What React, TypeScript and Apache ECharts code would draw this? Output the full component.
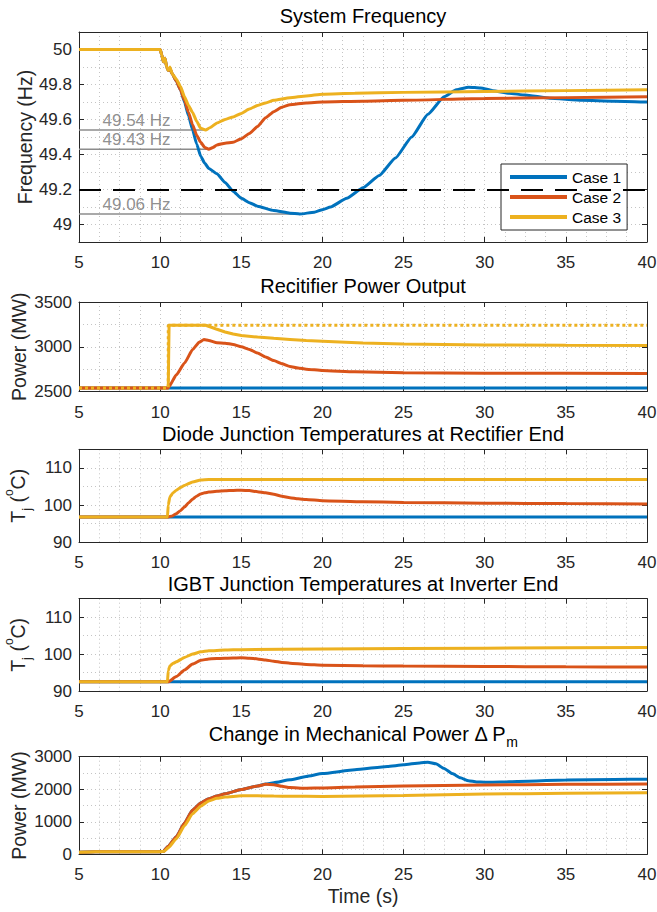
import React, { useEffect, useRef } from 'react';
import * as echarts from 'echarts';

// ---------------- data ----------------
const caseNames = ['Case 1', 'Case 2', 'Case 3'];

const panelTitles = [
  'System Frequency',
  'Recitifier Power Output',
  'Diode Junction Temperatures at Rectifier End',
  'IGBT Junction Temperatures at Inverter End',
  '{a|Change in Mechanical Power Δ P}{b|m}',
];

// System frequency (Hz)
const freqCase1: [number, number][] = [
  [5, 50], [10, 50], [10.1, 49.97], [10.2, 49.93], [10.3, 49.95], [10.4, 49.9], [10.5, 49.88],
  [10.6, 49.89], [10.75, 49.86], [11, 49.82], [11.25, 49.77], [11.5, 49.7], [11.75, 49.62],
  [12, 49.54], [12.25, 49.46], [12.5, 49.39], [12.75, 49.35], [13, 49.32], [13.5, 49.29],
  [14, 49.24], [14.5, 49.19], [15, 49.15], [15.5, 49.125], [16, 49.105], [17, 49.08],
  [18, 49.065], [18.6, 49.06], [19.5, 49.07], [20, 49.085], [20.5, 49.1], [21.5, 49.15],
  [22.5, 49.21], [23.5, 49.28], [24.5, 49.38], [25.5, 49.5], [26.5, 49.63], [27.5, 49.73],
  [28.25, 49.77], [29, 49.785], [29.75, 49.78], [30.5, 49.765], [31.5, 49.75], [32.5, 49.74],
  [34, 49.722], [36, 49.71], [38, 49.705], [40, 49.7],
];
const freqCase2: [number, number][] = [
  [5, 50], [10, 50], [10.1, 49.97], [10.2, 49.93], [10.3, 49.95], [10.4, 49.9], [10.5, 49.88],
  [10.6, 49.89], [10.75, 49.86], [11, 49.82], [11.25, 49.77], [11.5, 49.71], [11.75, 49.64],
  [12, 49.57], [12.25, 49.51], [12.5, 49.47], [12.75, 49.44], [13, 49.43], [13.25, 49.44],
  [13.5, 49.455], [14, 49.465], [14.5, 49.47], [15, 49.49], [15.5, 49.52], [16, 49.56],
  [16.5, 49.61], [17, 49.645], [17.5, 49.67], [18, 49.685], [19, 49.695], [20, 49.7],
  [22.5, 49.705], [25, 49.71], [30, 49.72], [35, 49.725], [40, 49.73],
];
const freqCase3: [number, number][] = [
  [5, 50], [10, 50], [10.1, 49.97], [10.2, 49.93], [10.3, 49.95], [10.4, 49.9], [10.5, 49.88],
  [10.6, 49.9], [10.75, 49.86], [11, 49.83], [11.25, 49.79], [11.5, 49.73], [11.75, 49.68],
  [12, 49.64], [12.25, 49.59], [12.5, 49.55], [12.8, 49.54], [13.1, 49.555], [13.5, 49.58],
  [14, 49.6], [14.5, 49.615], [15, 49.635], [15.5, 49.66], [16, 49.68], [16.5, 49.695],
  [17, 49.71], [18, 49.725], [19, 49.735], [20, 49.745], [22, 49.75], [25, 49.755],
  [30, 49.76], [35, 49.765], [40, 49.77],
];
const freqLimit = 49.2;
const freqNadir = [49.06, 49.43, 49.54];
const freqNadirTime = [18.6, 13.0, 12.8];

// Rectifier power output (MW)
const powCase1: [number, number][] = [[5, 2540], [40, 2540]];
const powCase2: [number, number][] = [
  [5, 2540], [10.5, 2540], [11, 2686], [11.5, 2818], [12, 2968], [12.4, 3050], [12.7, 3080],
  [13, 3070], [13.5, 3045], [14, 3040], [14.5, 3025], [15, 3000], [15.5, 2970], [16, 2930],
  [16.5, 2885], [17, 2845], [17.5, 2810], [18, 2780], [18.5, 2762], [19, 2750], [20, 2735],
  [22, 2720], [25, 2710], [30, 2705], [40, 2700],
];
const powCase3: [number, number][] = [
  [5, 2540], [10.5, 2540], [10.55, 3240], [12.8, 3240], [13.2, 3215], [13.5, 3195], [14, 3165],
  [14.5, 3143], [15, 3126], [16, 3108], [17, 3094], [18, 3082], [19, 3070], [20, 3062],
  [22.5, 3042], [25, 3030], [30, 3020], [35, 3016], [40, 3013],
];
const powLimit3: [number, number][] = [[5, 2540], [10.5, 2540], [10.5, 3240], [40, 3240]];

// Diode junction temperature (°C)
const diodeCase1: [number, number][] = [[5, 96.8], [40, 96.8]];
const diodeCase2: [number, number][] = [
  [5, 96.8], [10.5, 96.8], [10.75, 97.1], [11, 97.7], [11.25, 98.5], [11.5, 99.5], [11.75, 100.6],
  [12, 101.6], [12.25, 102.4], [12.5, 103], [12.75, 103.3], [13, 103.5], [13.5, 103.7],
  [14, 103.85], [14.5, 103.95], [15, 104], [15.5, 103.9], [16, 103.6], [16.5, 103.3],
  [17, 102.9], [17.5, 102.4], [18, 102], [18.5, 101.7], [19, 101.5], [20, 101.2],
  [22.5, 100.9], [25, 100.7], [30, 100.5], [35, 100.4], [40, 100.3],
];
const diodeCase3: [number, number][] = [
  [5, 96.8], [10.45, 96.8], [10.5, 100], [10.6, 102.2], [10.8, 103.3], [11, 104], [11.25, 104.7],
  [11.5, 105.3], [12, 106.2], [12.5, 106.75], [13, 106.9], [40, 106.9],
];

// IGBT junction temperature (°C)
const igbtCase1: [number, number][] = [[5, 92.5], [40, 92.5]];
const igbtCase2: [number, number][] = [
  [5, 92.5], [10.5, 92.5], [11, 93.9], [11.5, 95.7], [12, 97.3], [12.5, 98.3], [13, 98.7],
  [14, 98.85], [15, 99], [15.5, 98.9], [16, 98.7], [16.5, 98.4], [17, 98.05], [17.5, 97.75],
  [18, 97.5], [19, 97.2], [20, 97.0], [22.5, 96.85], [25, 96.75], [30, 96.65], [35, 96.55],
  [40, 96.5],
];
const igbtCase3: [number, number][] = [
  [5, 92.5], [10.45, 92.5], [10.5, 95.5], [10.6, 96.8], [10.8, 97.5], [11, 97.9], [11.5, 99.1],
  [12, 100], [12.5, 100.6], [13, 100.9], [14, 101.1], [15, 101.2], [20, 101.4], [30, 101.6],
  [40, 101.8],
];

// Change in mechanical power (MW)
const mechCase1: [number, number][] = [
  [5, 60], [6, 80], [10, 80], [10.2, 90], [10.5, 250], [11, 540], [11.5, 960], [12, 1360],
  [12.5, 1580], [13, 1710], [13.5, 1790], [14, 1860], [15, 1990], [16, 2100], [16.5, 2160],
  [17, 2200], [18, 2290], [19, 2390], [20, 2480], [22, 2600], [24, 2700], [25, 2750],
  [26, 2810], [26.5, 2830], [27, 2780], [27.5, 2640], [28, 2480], [28.5, 2350], [29, 2260],
  [29.5, 2225], [30, 2215], [31, 2220], [32, 2240], [35, 2280], [38, 2300], [40, 2310],
];
const mechCase2: [number, number][] = [
  [5, 60], [6, 80], [10, 80], [10.2, 90], [10.5, 250], [11, 540], [11.5, 960], [12, 1360],
  [12.5, 1580], [13, 1710], [13.5, 1790], [14, 1860], [15, 1990], [16, 2100], [16.5, 2150],
  [17, 2140], [17.5, 2090], [18, 2050], [19, 2030], [20, 2040], [22, 2070], [25, 2100],
  [30, 2130], [35, 2150], [40, 2160],
];
const mechCase3: [number, number][] = [
  [5, 60], [6, 80], [10, 80], [10.25, 90], [10.5, 200], [11, 480], [11.5, 880], [12, 1250],
  [12.5, 1480], [13, 1640], [13.5, 1720], [14, 1760], [15, 1800], [16, 1800], [17, 1790],
  [18, 1785], [20, 1780], [25, 1810], [30, 1850], [35, 1880], [40, 1895],
];

// ---------------- styling / layout ----------------
const FONT = '"Liberation Sans", Arial, Helvetica, sans-serif';
const AX = '#262626';
const GRIDC = '#c4c4c4';
const COLORS = ['#0072BD', '#D95319', '#EDB120'];
const LEFT = 79;
const WIDTH = 568;
const panels = [
  { top: 32, height: 210 },
  { top: 302, height: 89.5 },
  { top: 449.3, height: 93 },
  { top: 598.7, height: 92.3 },
  { top: 756.7, height: 97.6 },
];
const titleY = [15.5, 286, 434, 584, 734];
const TITLE_SIZE = 20;

const dotted = { color: GRIDC, type: [1, 3], width: 1 };
const axisLine = { show: true, onZero: false, lineStyle: { color: AX, width: 1 } };
const axisTick = { show: true, inside: true, length: 5, lineStyle: { color: AX, width: 1 } };

const TJ_NAME = '{t|T}{s|j}{t| (}{p|o}{t|C)}';
const plain = (v: number) => String(v);
const hideTop = (v: number) => (v > 112 ? '' : String(v));

const yCfg: any[] = [
  {
    min: 48.9, max: 50.1, splitNumber: 6, name: 'Frequency (Hz)', gap: 44,
    fmt: (v: number) => (v < 48.95 || v > 50.05 ? '' : String(Math.round(v * 10) / 10)),
  },
  { min: 2500, max: 3500, interval: 500, name: 'Power (MW)', gap: 50, fmt: plain },
  { min: 90, max: 115, interval: 10, name: TJ_NAME, gap: 46, fmt: hideTop },
  { min: 90, max: 115, interval: 10, name: TJ_NAME, gap: 46, fmt: hideTop },
  { min: 0, max: 3000, interval: 1000, name: 'Power (MW)', gap: 50, fmt: plain },
];

function buildOption() {
  const grid = panels.map((p) => ({
    left: LEFT, top: p.top, width: WIDTH, height: p.height, containLabel: false, outerBoundsMode: 'none',
  }));

  const xAxis: any[] = [];
  const yAxis: any[] = [];
  panels.forEach((_, i) => {
    const xb = { type: 'value', gridIndex: i, min: 5, max: 40, interval: 5, minorTick: { show: false, splitNumber: 4 } };
    xAxis.push({
      ...xb, position: 'bottom', axisLine, axisTick,
      axisLabel: { show: true, color: AX, fontSize: 17, fontFamily: FONT, margin: 12, formatter: plain, lineHeight: 17 },
      splitLine: { show: true, lineStyle: dotted },
      minorSplitLine: { show: true, lineStyle: dotted },
      ...(i === 4
        ? {
            name: 'Time (s)', nameLocation: 'middle', nameGap: 32, nameMoveOverlap: false,
            nameTextStyle: { color: AX, fontSize: 19.5, fontFamily: FONT },
          }
        : {}),
    });
    xAxis.push({
      ...xb, position: 'top', axisLine, axisTick, axisLabel: { show: false },
      splitLine: { show: false }, minorSplitLine: { show: false },
    });

    const c = yCfg[i];
    const yb: any = { type: 'value', gridIndex: i, min: c.min, max: c.max, minorTick: { show: false, splitNumber: 2 } };
    if (c.interval) yb.interval = c.interval;
    if (c.splitNumber) yb.splitNumber = c.splitNumber;
    yAxis.push({
      ...yb, position: 'left', axisLine, axisTick,
      axisLabel: { show: true, color: AX, fontSize: 17, fontFamily: FONT, margin: 7, formatter: c.fmt },
      splitLine: { show: true, lineStyle: dotted },
      minorSplitLine: { show: true, lineStyle: dotted },
      name: c.name, nameLocation: 'middle', nameGap: c.gap, nameMoveOverlap: false,
      nameTextStyle: {
        color: AX, fontSize: 19.5, fontFamily: FONT,
        rich: {
          t: { color: AX, fontSize: 19.5, fontFamily: FONT, lineHeight: 30 },
          s: { color: AX, fontSize: 13, fontFamily: FONT, lineHeight: 14, verticalAlign: 'bottom' },
          p: { color: AX, fontSize: 12, fontFamily: FONT, lineHeight: 13, verticalAlign: 'top' },
        },
      },
    });
    yAxis.push({
      ...yb, position: 'right', axisLine, axisTick, axisLabel: { show: false },
      splitLine: { show: false }, minorSplitLine: { show: false },
    });
  });

  const line = (name: string, data: [number, number][], color: string, i: number, extra: any = {}) => ({
    type: 'line', name, data, xAxisIndex: 2 * i, yAxisIndex: 2 * i,
    showSymbol: false, symbol: 'none', smooth: 0.15, smoothMonotone: 'x',
    color, lineStyle: { color, width: 3 }, itemStyle: { color }, silent: true, z: 3, ...extra,
  });

  const series: any[] = [];

  // panel 0: frequency
  freqNadir.forEach((v, k) => {
    series.push({
      type: 'line', name: 'nadir' + k, xAxisIndex: 0, yAxisIndex: 0, showSymbol: false, symbol: 'none',
      data: [[5, v], [freqNadirTime[k], v]], lineStyle: { color: '#8c8c8c', width: 1.5 }, silent: true, z: 2,
      ...(k === 0
        ? {
            markLine: {
              silent: true, symbol: 'none', label: { show: false },
              lineStyle: { color: '#000', type: [22, 12], width: 2 },
              data: [{ yAxis: freqLimit }],
            },
          }
        : {}),
    });
  });
  series.push({
    type: 'scatter', name: 'nadirLabels', xAxisIndex: 0, yAxisIndex: 0, symbolSize: 1,
    itemStyle: { color: 'rgba(0,0,0,0)' }, silent: true, z: 2,
    data: freqNadir.map((v) => [5, v]),
    label: {
      show: true, position: 'right', distance: 0, offset: [23, -10],
      color: '#737373', fontSize: 17, fontFamily: FONT, lineHeight: 18,
      formatter: (p: any) => `${p.value[1].toFixed(2)} Hz`,
    },
  });
  series.push(line(caseNames[0], freqCase1, COLORS[0], 0));
  series.push(line(caseNames[1], freqCase2, COLORS[1], 0));
  series.push(line(caseNames[2], freqCase3, COLORS[2], 0));

  // panel 1: rectifier power
  series.push(line(caseNames[0], powCase1, COLORS[0], 1, { smooth: false }));
  series.push(line(caseNames[2], powCase3, COLORS[2], 1, { smooth: false }));
  series.push(line(caseNames[1], powCase2, COLORS[1], 1));
  series.push(line('Limit', powLimit3, COLORS[2], 1, { smooth: false, lineStyle: { color: COLORS[2], width: 3, type: [3, 3] } }));

  // panel 2: diode
  series.push(line(caseNames[0], diodeCase1, COLORS[0], 2, { smooth: false }));
  series.push(line(caseNames[1], diodeCase2, COLORS[1], 2));
  series.push(line(caseNames[2], diodeCase3, COLORS[2], 2));

  // panel 3: IGBT
  series.push(line(caseNames[0], igbtCase1, COLORS[0], 3, { smooth: false }));
  series.push(line(caseNames[1], igbtCase2, COLORS[1], 3));
  series.push(line(caseNames[2], igbtCase3, COLORS[2], 3));

  // panel 4: mechanical power
  series.push(line(caseNames[0], mechCase1, COLORS[0], 4));
  series.push(line(caseNames[1], mechCase2, COLORS[1], 4));
  series.push(line(caseNames[2], mechCase3, COLORS[2], 4));

  const title = panelTitles.map((t, i) => {
    const isRich = t.indexOf('{') === 0;
    const textStyle: any = {
      color: '#000', fontSize: TITLE_SIZE, fontWeight: 'normal', fontFamily: FONT, lineHeight: 20,
    };
    if (isRich) {
      textStyle.rich = {
        a: { color: '#000', fontSize: TITLE_SIZE, fontFamily: FONT, lineHeight: 30 },
        b: { color: '#000', fontSize: 14, fontFamily: FONT, lineHeight: 14, verticalAlign: 'bottom' },
      };
    }
    return {
      text: t, left: LEFT + WIDTH / 2, top: titleY[i], textAlign: 'center', textVerticalAlign: 'middle',
      padding: 0, textStyle,
    };
  });

  return {
    animation: false,
    backgroundColor: '#ffffff',
    textStyle: { fontFamily: FONT },
    title,
    grid,
    xAxis,
    yAxis,
    legend: {
      data: caseNames, orient: 'vertical', left: 501, top: 164, selectedMode: false,
      padding: [5, 6, 5, 9], itemGap: 4, itemWidth: 57, itemHeight: 4, icon: 'rect',
      backgroundColor: '#ffffff', borderColor: AX, borderWidth: 1, borderRadius: 0,
      textStyle: { color: '#000', fontSize: 15.5, fontFamily: FONT, padding: [0, 0, 0, 0] },
    },
    series,
  };
}

export default function App() {
  const ref = useRef<HTMLDivElement>(null);
  useEffect(() => {
    if (!ref.current) return;
    const chart = echarts.init(ref.current, undefined, { renderer: 'svg' });
    chart.setOption(buildOption() as any);
    return () => chart.dispose();
  }, []);
  return (
    <div
      ref={ref}
      style={{ position: 'absolute', left: 0, top: 0, width: 657, height: 912, background: '#fff' }}
    />
  );
}
